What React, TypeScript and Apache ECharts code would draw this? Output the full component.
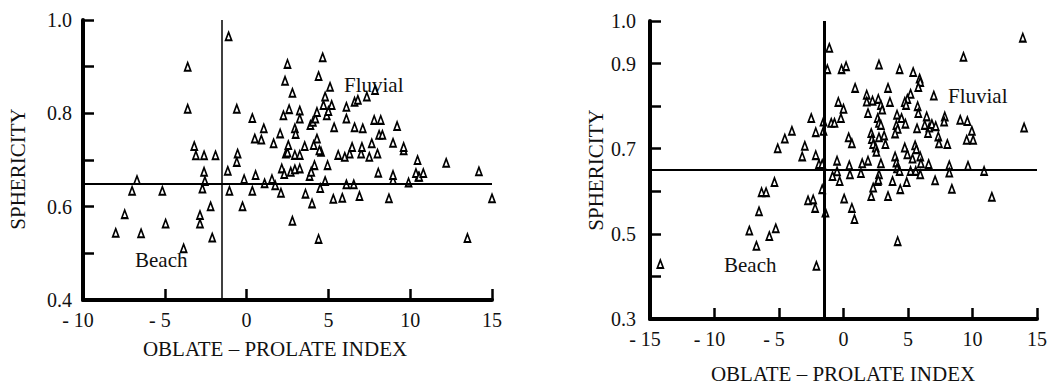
import React, { useEffect, useRef } from "react";
import * as echarts from "echarts";

// Left panel: [oblate-prolate index, sphericity]
const leftPoints: number[][] = [
  [-1.1, 0.965], [-3.6, 0.9], [-3.6, 0.81], [-0.6, 0.81], [0.35, 0.79], [-3.2, 0.73],
  [-3.1, 0.71], [-2.6, 0.71], [-1.9, 0.71], [-0.55, 0.714], [-0.6, 0.696], [-2.6, 0.675],
  [-2.55, 0.655], [-1.15, 0.677], [-0.15, 0.659], [0.55, 0.668], [0.5, 0.746], [0.9, 0.744],
  [-6.7, 0.657], [-7.0, 0.634], [-5.15, 0.634], [-2.7, 0.639], [-1.05, 0.634], [0.35, 0.634],
  [-7.45, 0.584], [-8.0, 0.544], [-6.45, 0.543], [-4.95, 0.564], [-3.85, 0.511], [-2.85, 0.582],
  [-2.85, 0.564], [-2.2, 0.601], [-2.1, 0.534], [-0.25, 0.601], [1.1, 0.65], [1.55, 0.659],
  [1.75, 0.646], [2.1, 0.63], [2.8, 0.57], [3.6, 0.628], [4.0, 0.607], [4.4, 0.531],
  [4.5, 0.64], [4.8, 0.655], [5.3, 0.617], [5.85, 0.619], [6.1, 0.648], [6.55, 0.648],
  [6.9, 0.623], [8.7, 0.618], [8.95, 0.657], [9.9, 0.652], [10.5, 0.664], [13.5, 0.533],
  [15.0, 0.618], [2.15, 0.682], [2.3, 0.67], [2.4, 0.714], [2.7, 0.675], [2.95, 0.711],
  [2.95, 0.68], [3.25, 0.682], [3.25, 0.711], [3.85, 0.666], [3.95, 0.675], [4.15, 0.689],
  [4.95, 0.689], [4.55, 0.718], [5.6, 0.711], [6.0, 0.707], [6.3, 0.714], [7.0, 0.714],
  [7.5, 0.707], [8.0, 0.714], [8.05, 0.673], [8.95, 0.668], [9.6, 0.721], [10.35, 0.672],
  [10.45, 0.7], [10.55, 0.664], [10.8, 0.672], [12.2, 0.694], [14.2, 0.676], [1.05, 0.768],
  [1.65, 0.736], [2.05, 0.757], [2.25, 0.796], [2.35, 0.87], [2.5, 0.906], [2.6, 0.809],
  [2.5, 0.716], [2.55, 0.732], [2.8, 0.844], [2.95, 0.768], [3.0, 0.756], [3.25, 0.806],
  [3.25, 0.789], [3.55, 0.73], [3.9, 0.775], [4.05, 0.782], [4.2, 0.789], [4.3, 0.803],
  [4.3, 0.746], [4.1, 0.732], [4.45, 0.721], [4.4, 0.88], [4.65, 0.92], [4.7, 0.818],
  [4.8, 0.836], [4.9, 0.796], [5.0, 0.805], [5.1, 0.857], [5.2, 0.818], [5.35, 0.77],
  [6.1, 0.814], [6.1, 0.789], [6.45, 0.728], [6.6, 0.825], [6.8, 0.829], [6.6, 0.77],
  [7.1, 0.768], [7.05, 0.728], [7.35, 0.836], [7.65, 0.736], [7.8, 0.786], [7.85, 0.85],
  [8.1, 0.754], [8.3, 0.754], [8.2, 0.786], [8.95, 0.737], [9.2, 0.773], [9.6, 0.728],
];

// Right panel: [oblate-prolate index, sphericity]
const rightPoints: number[][] = [
  [-1.1, 0.937], [-1.25, 0.887], [-0.15, 0.887], [0.2, 0.894], [0.9, 0.843], [-0.4, 0.81],
  [0.0, 0.794], [-0.2, 0.772], [-2.5, 0.772], [-1.55, 0.764], [-0.95, 0.761], [-0.7, 0.761],
  [-2.15, 0.739], [-1.55, 0.742], [-4.0, 0.742], [-4.55, 0.724], [-5.1, 0.701], [-3.0, 0.707],
  [-3.2, 0.682], [-2.15, 0.685], [-1.9, 0.664], [-1.65, 0.664], [-0.5, 0.672], [0.4, 0.727],
  [0.65, 0.713], [0.45, 0.661], [-0.5, 0.647], [-0.85, 0.636], [-0.3, 0.624], [0.5, 0.64],
  [-5.35, 0.622], [-6.35, 0.598], [-6.0, 0.598], [-1.65, 0.605], [-2.75, 0.579], [-2.35, 0.581],
  [-2.2, 0.561], [0.05, 0.583], [0.65, 0.561], [0.85, 0.535], [-1.4, 0.55], [-6.55, 0.553],
  [-7.3, 0.508], [-5.75, 0.495], [-5.25, 0.513], [-6.75, 0.472], [-14.2, 0.429], [-2.1, 0.425],
  [2.15, 0.589], [2.3, 0.609], [2.65, 0.624], [3.45, 0.589], [3.8, 0.624], [4.4, 0.605],
  [4.9, 0.622], [4.2, 0.483], [7.1, 0.626], [8.4, 0.606], [11.5, 0.587], [13.9, 0.961],
  [9.3, 0.916], [14.0, 0.75], [2.75, 0.898], [4.35, 0.887], [5.4, 0.88], [5.9, 0.865],
  [5.95, 0.857], [5.8, 0.845], [3.45, 0.843], [5.2, 0.829], [4.95, 0.817], [4.75, 0.81],
  [4.85, 0.803], [7.0, 0.825], [1.8, 0.827], [1.8, 0.811], [2.25, 0.813], [2.7, 0.817],
  [2.9, 0.803], [3.0, 0.792], [3.6, 0.81], [1.9, 0.784], [2.65, 0.772], [2.75, 0.761],
  [2.9, 0.756], [4.15, 0.78], [4.5, 0.772], [4.8, 0.759], [4.1, 0.756], [4.2, 0.747],
  [4.0, 0.736], [5.75, 0.8], [5.8, 0.784], [5.7, 0.748], [6.45, 0.776], [6.3, 0.756],
  [6.65, 0.75], [6.85, 0.758], [7.15, 0.753], [6.55, 0.737], [7.85, 0.776], [7.8, 0.764],
  [9.05, 0.768], [9.6, 0.765], [9.95, 0.742], [9.55, 0.721], [10.05, 0.721], [7.35, 0.729],
  [7.4, 0.713], [8.05, 0.711], [2.15, 0.737], [2.2, 0.723], [2.3, 0.711], [2.75, 0.727],
  [3.15, 0.731], [3.25, 0.711], [2.5, 0.703], [2.55, 0.693], [4.75, 0.703], [4.95, 0.687],
  [5.55, 0.708], [5.65, 0.699], [5.35, 0.677], [5.95, 0.682], [6.0, 0.666], [4.0, 0.682],
  [4.1, 0.668], [4.15, 0.654], [4.35, 0.648], [2.9, 0.666], [1.9, 0.672], [1.45, 0.666],
  [1.35, 0.643], [2.75, 0.64], [2.7, 0.627], [5.2, 0.648], [5.6, 0.648], [5.95, 0.64],
  [6.6, 0.664], [8.2, 0.661], [8.2, 0.644], [9.65, 0.66], [10.9, 0.648],
];

const leftYLabels = [0.4, 0.6, 0.8, 1.0];
const rightYLabels = [0.3, 0.5, 0.7, 0.9, 1.0];
const splitX = -1.5;
const splitY = 0.65;

const SERIF = "Liberation Serif, Times New Roman, serif";
const INK = "#111";

function xFormatter(v: number) {
  if (v < 0) return `- ${Math.abs(v)}{pad| }`;
  return `${v}`;
}

function yFormatter(shown: number[]) {
  return (v: number) =>
    shown.some((s) => Math.round(s * 10) === Math.round(v * 10)) ? v.toFixed(1) : "";
}

function makeXAxis(gridIndex: number, min: number, max: number) {
  return {
    type: "value",
    gridIndex,
    min,
    max,
    interval: 5,
    axisLine: { show: true, onZero: false, lineStyle: { color: "#000", width: 4 } },
    axisTick: { show: true, inside: true, length: 11, lineStyle: { color: "#000", width: 2.5 } },
    axisLabel: {
      show: true,
      margin: 10,
      color: INK,
      fontFamily: SERIF,
      fontSize: 20,
      formatter: xFormatter,
      rich: { pad: { width: 10, fontSize: 20, fontFamily: SERIF } },
    },
    splitLine: { show: false },
  };
}

function makeYAxis(gridIndex: number, min: number, shown: number[], margin: number) {
  return {
    type: "value",
    gridIndex,
    min,
    max: 1.0,
    interval: 0.1,
    axisLine: { show: true, onZero: false, lineStyle: { color: "#000", width: 4 } },
    axisTick: { show: true, inside: true, length: 11, lineStyle: { color: "#000", width: 2.5 } },
    axisLabel: {
      show: true,
      margin,
      color: INK,
      fontFamily: SERIF,
      fontSize: 20,
      formatter: yFormatter(shown),
    },
    splitLine: { show: false },
  };
}

function scatterSeries(idx: number, data: number[][], vWidth: number, xMin: number, yMin: number) {
  return {
    type: "scatter",
    xAxisIndex: idx,
    yAxisIndex: idx,
    data,
    symbol: "triangle",
    symbolSize: [6, 8],
    itemStyle: { color: "#fff", borderColor: "#000", borderWidth: 1.8, opacity: 1 },
    markLine: {
      silent: true,
      symbol: "none",
      label: { show: false },
      lineStyle: { color: "#000", type: "solid", width: 2 },
      data: [
        { yAxis: splitY, lineStyle: { color: "#000", type: "solid", width: 2 } },
        { xAxis: splitX, lineStyle: { color: "#000", type: "solid", width: vWidth } },
        { yAxis: yMin, lineStyle: { color: "#000", type: "solid", width: 4 } },
        { xAxis: xMin, lineStyle: { color: "#000", type: "solid", width: 4 } },
      ],
    },
  };
}

function textEl(text: string, x: number, y: number, opts: any = {}) {
  return {
    type: "text",
    x,
    y,
    rotation: opts.rotation || 0,
    style: {
      text,
      fill: INK,
      fontSize: opts.size || 21,
      fontFamily: SERIF,
      textAlign: opts.align || "center",
      textVerticalAlign: "middle",
    },
  };
}

export default function App() {
  const ref = useRef<HTMLDivElement>(null);

  useEffect(() => {
    if (!ref.current) return;
    const chart = echarts.init(ref.current, undefined, { renderer: "svg" });
    chart.setOption({
      animation: false,
      backgroundColor: "#fff",
      grid: [
        { left: 83, top: 20, width: 409, height: 280 },
        { left: 650, top: 21, width: 392, height: 298 },
      ],
      xAxis: [makeXAxis(0, -10, 15), makeXAxis(1, -15, 15)],
      yAxis: [makeYAxis(0, 0.4, leftYLabels, 11), makeYAxis(1, 0.3, rightYLabels, 14)],
      series: [
        scatterSeries(0, leftPoints, 1.5, -10, 0.4),
        scatterSeries(1, rightPoints, 3, -15, 0.3),
      ],
      graphic: [
        textEl("SPHERICITY", 18, 169, { rotation: Math.PI / 2 }),
        textEl("SPHERICITY", 596, 170, { rotation: Math.PI / 2 }),
        textEl("OBLATE \u2013 PROLATE INDEX", 275, 349),
        textEl("OBLATE \u2013 PROLATE INDEX", 843, 374),
        textEl("Fluvial", 344, 85, { align: "left" }),
        textEl("Beach", 135, 260, { align: "left" }),
        textEl("Fluvial", 948, 96, { align: "left" }),
        textEl("Beach", 724, 265, { align: "left" }),
      ],
    });
    return () => chart.dispose();
  }, []);

  return (
    <div
      ref={ref}
      style={{ position: "absolute", left: 0, top: 0, width: 1050, height: 387, background: "#fff" }}
    />
  );
}
